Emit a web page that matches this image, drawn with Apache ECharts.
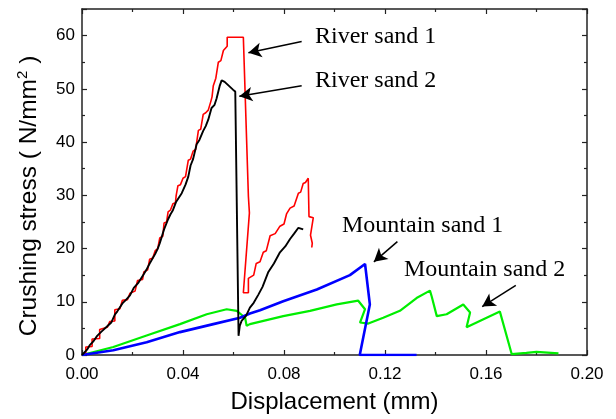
<!DOCTYPE html>
<html>
<head>
<meta charset="utf-8">
<script src="https://cdn.jsdelivr.net/npm/echarts@6/dist/echarts.min.js"></script>
<style>
  html, body { margin: 0; padding: 0; background: #fff; }
  #chart { width: 616px; height: 419px; }
</style>
</head>
<body>
<div id="chart"></div>
<script>
// Crushing stress (N/mm²) against displacement (mm) for four sand samples
const riverSand1 = [
  [0, 0], [0.0015, 0.2], [0.0015, 1.5], [0.0040, 1.6], [0.0040, 3.0], [0.0070, 3.1],
  [0.0070, 4.8], [0.0100, 5.2], [0.0110, 6.3], [0.0130, 6.4], [0.0130, 8.5], [0.0150, 8.7],
  [0.0160, 10.3], [0.0180, 10.4], [0.0190, 11.6], [0.0210, 12.0], [0.0220, 14.0],
  [0.0240, 14.2], [0.0245, 15.6], [0.0260, 16.0], [0.0268, 18.0], [0.0280, 18.2],
  [0.0290, 19.6], [0.0300, 20.0], [0.0308, 22.0], [0.0320, 22.3], [0.0325, 24.8],
  [0.0335, 25.0], [0.0341, 26.9], [0.0350, 27.2], [0.0360, 28.4], [0.0370, 28.6],
  [0.0373, 30.0], [0.0378, 30.0], [0.0380, 31.8], [0.0390, 32.0], [0.0400, 33.2],
  [0.0410, 33.5], [0.0421, 36.6], [0.0430, 36.8], [0.0440, 38.3], [0.0450, 38.6],
  [0.0461, 42.2], [0.0470, 42.4], [0.0480, 45.2], [0.0490, 45.5], [0.0500, 46.0],
  [0.0510, 47.6], [0.0515, 48.5], [0.0520, 50.6], [0.0530, 52.0], [0.0535, 53.5],
  [0.0540, 55.0], [0.0550, 55.3], [0.0560, 57.2], [0.0575, 58.0], [0.0575, 59.7],
  [0.0639, 59.7], [0.0659, 29.8], [0.0663, 26.7], [0.0639, 11.7], [0.0659, 11.7],
  [0.0659, 14.4], [0.0665, 14.4], [0.0680, 15.0], [0.0690, 17.2], [0.0705, 17.5],
  [0.0718, 19.3], [0.0730, 19.6], [0.0745, 22.4], [0.0765, 22.8], [0.0784, 24.2],
  [0.0800, 24.6], [0.0810, 26.5], [0.0824, 27.6], [0.0840, 28.0], [0.0857, 30.4],
  [0.0866, 30.6], [0.0876, 32.2], [0.0885, 32.4], [0.0896, 33.2], [0.0899, 33.0],
  [0.0899, 26.0], [0.0916, 25.8], [0.0905, 22.5], [0.0912, 21.0], [0.0910, 20.2]
];
const riverSand2 = [
  [0, 0], [0.0020, 1.0], [0.0030, 1.8], [0.0044, 2.5], [0.0060, 3.6], [0.0077, 4.4],
  [0.0100, 5.4], [0.0116, 6.1], [0.0130, 7.6], [0.0140, 8.2], [0.0162, 9.8],
  [0.0175, 10.4], [0.0190, 11.2], [0.0205, 12.6], [0.0222, 13.5], [0.0245, 15.2],
  [0.0255, 16.0], [0.0268, 17.2], [0.0290, 19.0], [0.0300, 20.0], [0.0308, 21.0],
  [0.0325, 23.6], [0.0341, 25.5], [0.0350, 26.4], [0.0360, 27.2], [0.0373, 28.8],
  [0.0395, 30.4], [0.0410, 32.0], [0.0421, 33.5], [0.0430, 35.6], [0.0440, 36.8],
  [0.0454, 39.6], [0.0465, 40.4], [0.0480, 42.1], [0.0490, 43.0], [0.0500, 44.2],
  [0.0513, 46.4], [0.0525, 47.0], [0.0533, 48.2], [0.0545, 50.5], [0.0553, 51.6],
  [0.0565, 51.3], [0.0599, 49.8], [0.0607, 49.5], [0.0620, 3.6], [0.0625, 5.5],
  [0.0632, 6.4], [0.0650, 7.4], [0.0665, 8.9], [0.0680, 9.8], [0.0698, 11.3],
  [0.0715, 12.8], [0.0738, 15.6], [0.0760, 17.2], [0.0784, 19.3], [0.0805, 20.4],
  [0.0824, 21.8], [0.0840, 22.8], [0.0857, 23.9], [0.0876, 23.6]
];
const mountainSand1 = [
  [0, 0], [0.0124, 0.9], [0.0256, 2.4], [0.0388, 4.3], [0.0520, 5.8], [0.0626, 7.0],
  [0.0665, 7.8], [0.0705, 8.4], [0.0797, 10.1], [0.0930, 12.3], [0.1061, 15.0],
  [0.1121, 17.1], [0.1140, 9.5], [0.1100, 0], [0.1325, 0]
];
const mountainSand2 = [
  [0, 0], [0.0124, 1.5], [0.0256, 3.65], [0.0388, 5.8], [0.0494, 7.65], [0.0573, 8.6],
  [0.0613, 8.3], [0.0646, 7.0], [0.0652, 5.5], [0.0665, 5.8], [0.0797, 7.3],
  [0.0903, 8.3], [0.1009, 9.5], [0.1094, 10.2], [0.1121, 8.6], [0.1101, 6.1],
  [0.1134, 5.9], [0.1193, 7.0], [0.1259, 8.3], [0.1325, 10.7], [0.1378, 12.1],
  [0.1385, 11.0], [0.1405, 7.3], [0.1444, 7.65], [0.1510, 9.5], [0.1537, 8.0],
  [0.1523, 5.2], [0.1590, 6.7], [0.1655, 8.15], [0.1702, 0.15], [0.1760, 0.4],
  [0.1800, 0.6], [0.1887, 0.3]
];
const seriesNames = ['River sand 1', 'River sand 2', 'Mountain sand 2', 'Mountain sand 1'];

// Arrow pointers for the curve labels: [from, to] in data units
const arrowRiver1 = [[0.0870, 58.9], [0.0659, 56.8]];
const arrowRiver2 = [[0.0870, 50.6], [0.0623, 48.6]];
const arrowMountain1 = [[0.1249, 21.3], [0.1156, 17.5]];
const arrowMountain2 = [[0.1718, 13.1], [0.1585, 9.1]];

const xMin = 0, xMax = 0.20, xStep = 0.04;
const yMin = 0, yMax = 65, yStep = 10;

const chart = echarts.init(document.getElementById('chart'));

const axisColor = '#222';
const tickFont = { fontFamily: 'Liberation Sans, Arial, sans-serif', fontSize: 17, color: '#000' };

function baseX(pos, showLabel) {
  return {
    type: 'value', position: pos, min: xMin, max: xMax, interval: xStep,
    axisLine: { show: true, onZero: false, lineStyle: { color: axisColor, width: 1.5 } },
    axisTick: { show: true, inside: true, length: 5, lineStyle: { color: axisColor, width: 1.2 } },
    minorTick: { show: true, splitNumber: 2, length: 3, lineStyle: { color: axisColor, width: 1.2 } },
    splitLine: { show: false },
    axisLabel: Object.assign({ show: showLabel, margin: 11, formatter: v => v.toFixed(2) }, tickFont)
  };
}
function baseY(pos, showLabel) {
  return {
    type: 'value', position: pos, min: yMin, max: yMax, interval: yStep,
    axisLine: { show: true, onZero: false, lineStyle: { color: axisColor, width: 1.5 } },
    axisTick: { show: true, inside: true, length: 5, lineStyle: { color: axisColor, width: 1.2 } },
    minorTick: { show: true, splitNumber: 2, length: 3, lineStyle: { color: axisColor, width: 1.2 } },
    splitLine: { show: false },
    axisLabel: Object.assign({ show: showLabel, margin: 7,
      formatter: v => (v <= 60 ? String(v) : '') }, tickFont)
  };
}

function arrowLine(pair) {
  return [{ coord: pair[0] }, { coord: pair[1] }];
}

const xMain = baseX('bottom', true);
xMain.name = 'Displacement (mm)';
xMain.nameLocation = 'middle';
xMain.nameGap = 35;
xMain.nameTextStyle = { fontFamily: 'Liberation Sans, Arial, sans-serif', fontSize: 24, color: '#000' };

const option = {
  animation: false,
  backgroundColor: '#fff',
  grid: { left: 82, right: 29, top: 9, bottom: 57.5, containLabel: false },
  xAxis: [xMain, baseX('top', false)],
  yAxis: [baseY('left', true), baseY('right', false)],
  series: [
    {
      name: seriesNames[0], type: 'line', data: riverSand1, showSymbol: false,
      lineStyle: { color: '#ff0000', width: 1.6 }, z: 3,
      markLine: {
        silent: true, symbol: ['none', 'arrow'], symbolSize: [11, 13],
        lineStyle: { color: '#000', width: 1.5, type: 'solid' }, label: { show: false },
        data: [arrowLine(arrowRiver1), arrowLine(arrowRiver2), arrowLine(arrowMountain1), arrowLine(arrowMountain2)]
      }
    },
    {
      name: seriesNames[1], type: 'line', data: riverSand2, showSymbol: false,
      lineStyle: { color: '#000000', width: 1.9 }, z: 4
    },
    {
      name: seriesNames[2], type: 'line', data: mountainSand2, showSymbol: false,
      lineStyle: { color: '#00ee00', width: 2.2 }, z: 2
    },
    {
      name: seriesNames[3], type: 'line', data: mountainSand1, showSymbol: false,
      lineStyle: { color: '#0000ff', width: 2.6 }, z: 3
    }
  ],
  graphic: [
    {
      type: 'text', x: 29, y: 196, rotation: Math.PI / 2,
      style: {
        text: 'Crushing stress ( N/mm{sup|2} )',
        font: '24.5px "Liberation Sans", Arial, sans-serif', fill: '#000',
        align: 'center', verticalAlign: 'middle',
        rich: { sup: { fontSize: 15, fontFamily: 'Liberation Sans, Arial, sans-serif', fill: '#000', verticalAlign: 'top', padding: [0, 0, 12, 0] } }
      }
    },
    { type: 'text', x: 315, y: 37, style: { text: seriesNames[0], font: '24px "Liberation Serif", "Times New Roman", serif', fill: '#000', verticalAlign: 'middle' } },
    { type: 'text', x: 315, y: 81, style: { text: seriesNames[1], font: '24px "Liberation Serif", "Times New Roman", serif', fill: '#000', verticalAlign: 'middle' } },
    { type: 'text', x: 342, y: 226, style: { text: 'Mountain sand 1', font: '24px "Liberation Serif", "Times New Roman", serif', fill: '#000', verticalAlign: 'middle' } },
    { type: 'text', x: 404, y: 270, style: { text: 'Mountain sand 2', font: '24px "Liberation Serif", "Times New Roman", serif', fill: '#000', verticalAlign: 'middle' } }
  ]
};

chart.setOption(option);
</script>
</body>
</html>
